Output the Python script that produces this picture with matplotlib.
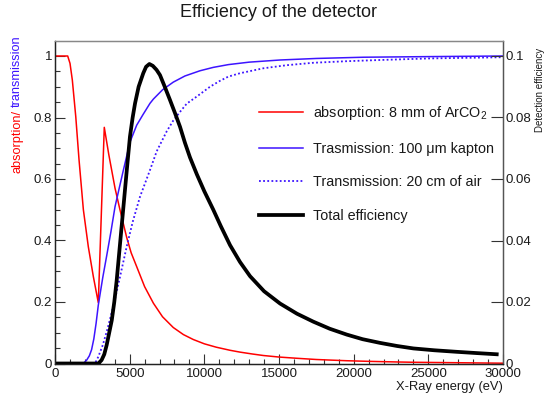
import matplotlib
matplotlib.use("Agg")
import matplotlib.pyplot as plt
from matplotlib.ticker import MultipleLocator, FormatStrFormatter

plt.rcParams['font.family'] = ['Liberation Sans', 'DejaVu Sans']
plt.rcParams['mathtext.default'] = 'regular'

# ---------------- data ----------------
abs_E = [0, 850, 1005, 1160, 1390, 1610, 1900, 2230, 2570, 2900, 3300, 3600,
         4020, 4350, 4800, 5100, 5470, 6000, 6590, 7200, 7920, 8600, 9260,
         10000, 10800, 11720, 12390, 13200, 13950, 15000, 16190, 17500, 18500,
         19540, 21000, 22890, 24000, 26000, 28000, 30000]
abs_V = [1.0, 1.0, 0.976, 0.922, 0.803, 0.662, 0.5, 0.38, 0.282, 0.198, 0.768,
         0.68, 0.57, 0.50, 0.41, 0.36, 0.315, 0.25, 0.196, 0.152, 0.117, 0.094,
         0.078, 0.064, 0.053, 0.043, 0.037, 0.031, 0.026, 0.021, 0.017, 0.013,
         0.011, 0.009, 0.007, 0.005, 0.004, 0.003, 0.002, 0.001]

kap_E = [0, 1900, 2120, 2300, 2450, 2600, 2750, 2900, 3200, 3460, 3750, 4020,
         4300, 4580, 5020, 5470, 5900, 6360, 6590, 7200, 7920, 8700, 9710,
         10600, 11610, 13000, 15070, 17500, 20650, 25000, 30000]
kap_V = [0, 0, 0.011, 0.025, 0.045, 0.08, 0.13, 0.19, 0.28, 0.35, 0.43, 0.51,
         0.57, 0.629, 0.72, 0.775, 0.81, 0.846, 0.86, 0.89, 0.915, 0.935, 0.952,
         0.963, 0.972, 0.98, 0.987, 0.992, 0.996, 0.998, 1.0]

air_E = [0, 2680, 2900, 3200, 3500, 3900, 4300, 4800, 5200, 5690, 6360, 6810,
         7480, 7920, 8400, 8820, 9490, 10380, 11000, 11610, 12390, 13950, 15500,
         17300, 19500, 21770, 25000, 30000]
air_V = [0, 0, 0.022, 0.06, 0.11, 0.185, 0.27, 0.38, 0.46, 0.542, 0.629, 0.69,
         0.755, 0.79, 0.82, 0.845, 0.868, 0.9, 0.918, 0.933, 0.944, 0.96, 0.97,
         0.978, 0.983, 0.987, 0.992, 0.996]

eff_E = [0, 2900, 3120, 3300, 3460, 3630, 3800, 3970, 4130, 4300, 4470, 4640,
         4800, 5020, 5200, 5360, 5600, 5910, 6100, 6320, 6550, 6800, 7030, 7350,
         7700, 8030, 8370, 8700, 9040, 9500, 10000, 10600, 11100, 11720, 12390,
         13060, 14000, 15070, 16200, 17300, 18400, 19540, 20600, 21770, 22900,
         24000, 25400, 26900, 28200, 29580]
eff_V = [0, 0, 0.0011, 0.003, 0.006, 0.010, 0.014, 0.020, 0.027, 0.036, 0.045,
         0.054, 0.0625, 0.0738, 0.080, 0.0846, 0.090, 0.0944, 0.0965, 0.0974,
         0.0968, 0.0955, 0.0938, 0.090, 0.0857, 0.0815, 0.077, 0.0718, 0.067,
         0.0615, 0.056, 0.050, 0.0447, 0.0385, 0.0330, 0.0284, 0.0235, 0.0195,
         0.0162, 0.0136, 0.0113, 0.0094, 0.0079, 0.0067, 0.0057, 0.0049, 0.0043,
         0.0038, 0.0034, 0.0030]

labels = ['absorption: 8 mm of ArCO$_{2}$', 'Trasmission: 100 \u03bcm kapton',
          'Transmission: 20 cm of air', 'Total efficiency']
title = 'Efficiency of the detector'
xlabel = 'X-Ray energy (eV)'

RED = '#ff0000'
BLUE = '#3d14ff'
TXT = '#1a1a1a'

fig = plt.figure(figsize=(5.44, 3.96), dpi=100)
ax = fig.add_axes([55/544, 1-363.5/396, 448/544, (363.5-40.7)/396])
ax2 = ax.twinx()

l1, = ax.plot(abs_E, abs_V, color=RED, lw=1.1)
l2, = ax.plot(kap_E, kap_V, color=BLUE, lw=1.1)
l3, = ax.plot(air_E, air_V, color=BLUE, lw=1.3, linestyle=(0, (1, 1.3)))
l4, = ax2.plot(eff_E, eff_V, color='black', lw=2.7, solid_joinstyle='round')

ax.set_xlim(0, 30000)
ax.set_ylim(0, (363.5-40.7)/307.5)
ax2.set_ylim(0, (363.5-40.7)/3075)

tc = '#333333'
ax.xaxis.set_major_locator(MultipleLocator(5000))
ax.xaxis.set_minor_locator(MultipleLocator(1000))
ax.yaxis.set_major_locator(MultipleLocator(0.2))
ax.yaxis.set_minor_locator(MultipleLocator(0.05))
ax.yaxis.set_major_formatter(FormatStrFormatter('%g'))
ax2.yaxis.set_major_locator(MultipleLocator(0.02))
ax2.yaxis.set_major_formatter(FormatStrFormatter('%g'))

ax.tick_params(axis='both', which='major', direction='in', length=7, width=0.8,
               color=tc, labelsize=9.5, labelcolor=TXT)
ax.tick_params(axis='both', which='minor', direction='in', length=3.5, width=0.8,
               color=tc)
ax.tick_params(axis='x', which='both', top=False, pad=3)
ax.tick_params(axis='y', which='both', right=False, pad=2)
ax2.tick_params(axis='y', which='major', direction='in', length=9, width=0.8,
                color=tc, labelsize=9.5, labelcolor=TXT, pad=1.5)
ax2.tick_params(axis='y', which='minor', right=False)

for a in (ax, ax2):
    a.spines['top'].set_color('#888888')
    a.spines['left'].set_color('#222222')
    a.spines['bottom'].set_color('#222222')
    a.spines['right'].set_color('#555555')
    for s in a.spines.values():
        s.set_linewidth(0.9)

leg = ax.legend([l1, l2, l3, l4], labels, frameon=False, fontsize=10.4,
                handlelength=3.05, handletextpad=0.68, labelspacing=1.36,
                loc='upper left',
                bbox_to_anchor=((259-55)/448, 1-(104-40.7)/322.8),
                borderaxespad=0, borderpad=0)
for t in leg.get_texts():
    t.set_color(TXT)

fig.text(279/544, 1-17/396, title, ha='center', va='baseline', fontsize=13,
         color=TXT)
fig.text(503/544, 1-390/396, xlabel, ha='right', va='baseline', fontsize=9.3,
         color=TXT)
t1 = fig.text(17/544, 1-35/396, 'transmission', rotation=90, ha='center',
              va='top', fontsize=9.2, color=BLUE)
fig.canvas.draw()
bb = t1.get_window_extent(renderer=fig.canvas.get_renderer())
ybot = (bb.y0 - 3) / fig.bbox.height
fig.text(17/544, ybot, 'absorption/', rotation=90, ha='center', va='top',
         fontsize=9.2, color=RED)
fig.text(540/544, 1-48/396, 'Detection efficiency', rotation=90, ha='center',
         va='top', fontsize=7, color=TXT)

fig.savefig('out.png', dpi=100)
